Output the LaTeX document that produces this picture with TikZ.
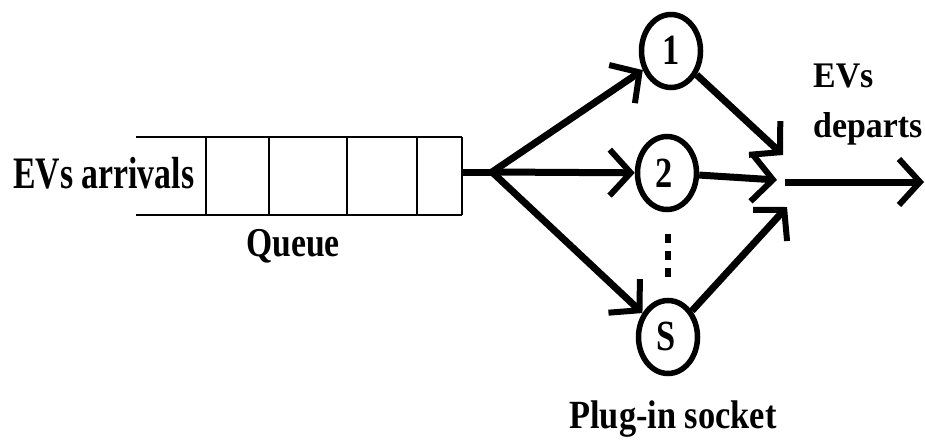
\documentclass[tikz,border=0pt]{standalone}
\usepackage{fontspec}
\setmainfont{Liberation Serif}
\usetikzlibrary{arrows.meta,shapes.geometric}

% size, horizontal squeeze, text
\newcommand{\evtext}[3]{\scalebox{#2}[1]{\fontsize{#1}{#1}\selectfont\bfseries #3}}

\begin{document}
\begin{tikzpicture}[x=1pt,y=-1pt,
    qline/.style={line width=2pt},
    flow/.style={line width=7pt,-{Straight Barb[length=21pt,width=46pt,line width=6pt]}},
    socket/.style={ellipse,draw,line width=5.5pt,minimum width=59pt,minimum height=73pt,inner sep=0pt},
    lbl/.style={inner sep=0pt}]
  \useasboundingbox (0,0) rectangle (925,439);

  % queue
  \draw[qline] (136,137) -- (462,137) (136,215) -- (462,215);
  \foreach \qx in {206,269,347,417,462}
    \draw[qline] (\qx,137) -- (\qx,215);
  \node[lbl,anchor=base west] (arr) at (13,188) {\evtext{45}{0.75}{EVs arrivals}};
  \node[lbl,anchor=base] (queue) at (293,256) {\evtext{41}{0.82}{Queue}};

  % sockets
  \node[socket] (c1) at (671,51) {};
  \node[socket] (c2) at (667,173) {};
  \node[socket] (cs) at (668,337) {};
  \node[lbl,anchor=base] (n1) at (671,64) {\evtext{43}{0.8}{1}};
  \node[lbl,anchor=base] (n2) at (664,187) {\evtext{43}{0.8}{2}};
  \node[lbl,anchor=base] (ns) at (666,350) {\evtext{43}{0.8}{S}};
  \node[lbl,anchor=base] (plug) at (673,428) {\evtext{40}{0.86}{Plug-in socket}};
  \draw[line width=6.5pt,dash pattern=on 9pt off 8pt] (c2.south) ++(1,22) coordinate (d1) -- ++(0,45) coordinate (d2);

  \coordinate (qend) at (462,172);
  \coordinate (fan) at (492,172);
  \coordinate (j1) at (783,155);
  \coordinate (j2) at (777,180);
  \coordinate (js) at (787,207);
  \coordinate (out) at (785,182);
  \coordinate (exit) at (924,182);

  \draw[line width=7pt] (qend) -- (fan);
  \draw[flow] (fan) -- (c1);
  \draw[flow] (fan) -- (c2);
  \draw[flow] (fan) -- (cs);
  \draw[flow] (c1) -- (j1);
  \draw[flow] (c2) -- (j2);
  \draw[flow] (cs) -- (js);
  \draw[flow] (out) -- (exit);

  \node[lbl,anchor=base west] (dep1) at (813,87) {\evtext{36}{0.94}{EVs}};
  \node[lbl,anchor=base west] (dep2) at (813,137) {\evtext{36}{0.94}{departs}};
\end{tikzpicture}
\end{document}
